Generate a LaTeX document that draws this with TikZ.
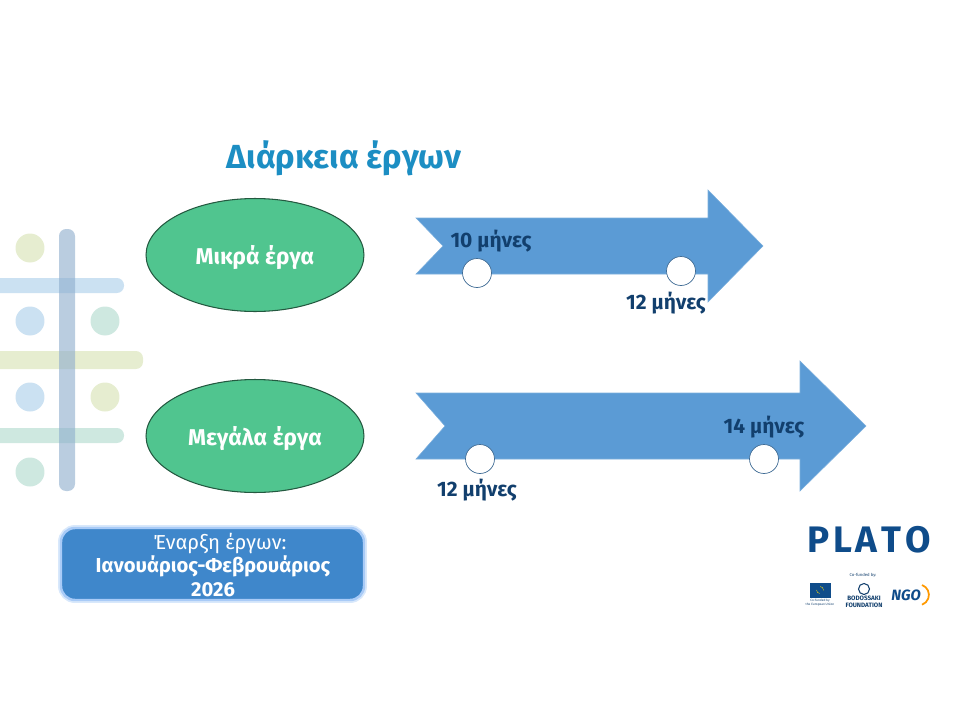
\documentclass[tikz,border=0pt]{standalone}
\usepackage{fontspec}
\setmainfont{Fira Sans}
\usetikzlibrary{shapes.geometric}
\definecolor{platoblue}{HTML}{0F4C8A}
\definecolor{arrowblue}{HTML}{5B9BD5}
\definecolor{ovalgreen}{HTML}{50C58F}
\definecolor{boxblue}{HTML}{3F87CB}
\definecolor{glowblue}{HTML}{A9CBF7}
\definecolor{titleblue}{HTML}{1C8EC3}
\definecolor{darktext}{HTML}{123F6D}
\definecolor{barblue}{HTML}{8FAECD}
\definecolor{softblue}{HTML}{CBE1F2}
\definecolor{softyellow}{HTML}{E6EDD0}
\definecolor{softteal}{HTML}{CEE8E0}
\tikzset{
  oval/.style={ellipse,draw=black!55!ovalgreen,fill=ovalgreen,line width=0.6pt,minimum width=4.36cm,minimum height=2.26cm,text=white,text depth=0pt,font=\bfseries\fontsize{13}{15}\selectfont},
  monthlabel/.style={text=darktext,font=\bfseries\fontsize{11.9}{14}\selectfont},
  milestone/.style={circle,draw=arrowblue!70!black,fill=white,line width=0.4pt,minimum size=0.58cm,inner sep=0pt},
  timearrow/.style={fill=arrowblue,draw=arrowblue!80!white,line width=0.3pt},
  softdot/.style={circle,minimum size=0.58cm,inner sep=0pt},
  tinytext/.style={text=darktext,inner sep=0pt,align=center}
}
\begin{document}
\begin{tikzpicture}[x=0.02cm,y=-0.02cm]
  \useasboundingbox (0,0) rectangle (960,720);
  % background decoration
  \node[softdot,fill=softyellow] (dotA) at (30,248) {};
  \node[softdot,fill=softblue] (dotB) at (30,321) {};
  \node[softdot,fill=softteal] (dotC) at (105,321) {};
  \node[softdot,fill=softblue] (dotD) at (30,397) {};
  \node[softdot,fill=softyellow] (dotE) at (105,397) {};
  \node[softdot,fill=softteal] (dotF) at (30,472) {};
  \fill[softblue,rounded corners=4pt] (-10,278) rectangle (124,293);
  \fill[softyellow,rounded corners=4pt] (-10,351) rectangle (143,369);
  \fill[softteal,rounded corners=4pt] (-10,428) rectangle (124,443);
  \fill[barblue,opacity=0.62,rounded corners=4pt] (59,229) rectangle (75,491);
  % title
  \node[text=titleblue,font=\bfseries\fontsize{19}{22}\selectfont] (title) at (344,158) {Διάρκεια έργων};
  % ovals
  \node[oval] (small) at (255,255) {Μικρά έργα};
  \node[oval] (large) at (255,436) {Μεγάλα έργα};
  % arrows
  \draw[timearrow] (416,218) -- (708,218) -- (708,190) -- (763,246) -- (708,302) -- (708,274) -- (416,274) -- (443,246) -- cycle;
  \draw[timearrow] (416,393) -- (800,393) -- (800,361) -- (866,426) -- (800,491) -- (800,459) -- (416,459) -- (445,426) -- cycle;
  \node[milestone] (smallA) at (477,273) {};
  \node[milestone] (smallB) at (681,271) {};
  \node[milestone] (largeA) at (480,459) {};
  \node[milestone] (largeB) at (764,459) {};
  \node[monthlabel] (smallAtext) at (491,241) {10 μήνες};
  \node[monthlabel] (smallBtext) at (666,303) {12 μήνες};
  \node[monthlabel] (largeAtext) at (477,490) {12 μήνες};
  \node[monthlabel] (largeBtext) at (764,427) {14 μήνες};
  % start box
  \draw[draw=glowblue!45!white,line width=3.4pt,rounded corners=8pt] (61,528) rectangle (364,600);
  \draw[draw=glowblue,line width=1.4pt,fill=boxblue,rounded corners=8pt] (61,528) rectangle (364,600);
  \node[text=white,align=center,font=\fontsize{11.5}{13.6}\selectfont] (start) at (213,565) {\hspace*{8pt}Έναρξη έργων:\\\textbf{Ιανουάριος-Φεβρουάριος}\\\textbf{2026}};
  % logos
  \node[text=platoblue,font=\bfseries\fontsize{21}{24}\selectfont] (plato) at (869,540) {P\kern2.1pt L\kern2.1pt A\kern2.1pt T\kern2.1pt O};
  \node[tinytext,font=\fontsize{2.4}{3}\selectfont] (cofund) at (863,575) {Co-funded by:};
  \node[fill=platoblue,minimum width=0.42cm,minimum height=0.3cm,inner sep=0pt] (euflag) at (820,590) {};
  \node[circle,draw=yellow!80!orange,dashed,line width=0.2pt,minimum size=0.14cm,inner sep=0pt] (eustars) at (euflag) {};
  \node[tinytext,font=\fontsize{1.8}{2.4}\selectfont] (eutext) at (820,603) {Co-funded by\\the European Union};
  \node[circle,draw=darktext,line width=0.6pt,minimum size=0.22cm,inner sep=0pt] (seal) at (864,589) {};
  \node[tinytext,font=\bfseries\fontsize{3.6}{3.8}\selectfont] (bodossaki) at (864,602) {BODOSSAKI\\FOUNDATION};
  \node[text=platoblue,font=\bfseries\itshape\fontsize{8.5}{10}\selectfont,inner sep=0pt] (ngo) at (906,595) {NGO};
  \draw[orange!80!yellow,line width=1pt] (922,585) arc[start angle=70,end angle=-70,radius=0.21cm];
\end{tikzpicture}
\end{document}
